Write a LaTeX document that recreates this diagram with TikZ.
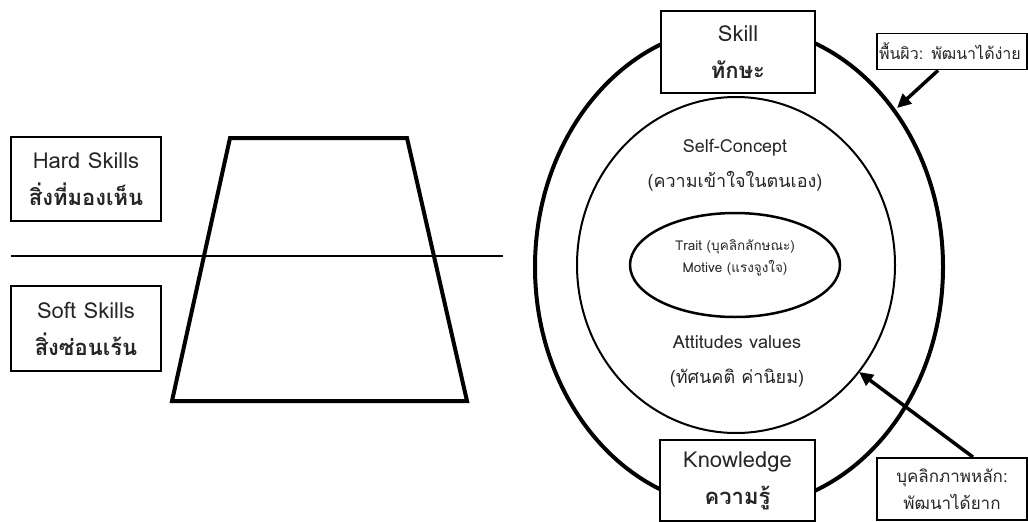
\documentclass[tikz,border=0pt]{standalone}
\usepackage{fontspec}
\setmainfont[Script=Thai]{Loma}
\usetikzlibrary{arrows.meta,calc}
\newcommand{\thline}[1]{{\fontsize{22}{37}\selectfont\bfseries #1}}
\tikzset{
  box/.style={draw=black,line width=1.8pt,fill=white,inner sep=0pt,align=center,text=black!85},
  bigtxt/.style={font=\fontsize{22}{37}\selectfont},
  midtxt/.style={font=\fontsize{18}{35}\selectfont},
  smalltxt/.style={font=\fontsize{13.5}{22}\selectfont},
  anntxt/.style={font=\fontsize{16}{27}\selectfont},
  ann2txt/.style={font=\fontsize{17}{27}\selectfont},
  arr/.style={line width=3.5pt,-{Triangle[length=14pt,width=13pt]}},
}
\begin{document}
\begin{tikzpicture}[x=1pt,y=-1pt]
\useasboundingbox (0,0) rectangle (1028,522);
% left part
\draw[line width=2.5pt] (11,256) -- (503,256);
\draw[line width=4pt,line join=miter] (230,138) -- (407,138) -- (467,401) -- (172,401) -- cycle;
\node[box,bigtxt,minimum width=150pt,minimum height=84pt] (hard) at (86,179) {Hard Skills\\ \thline{สิ่งที่มองเห็น}};
\node[box,bigtxt,minimum width=150pt,minimum height=85pt] (soft) at (86,328.5) {Soft Skills\\ \thline{สิ่งซ่อนเร้น}};
% right part
\draw[line width=4pt] (739,267) ellipse [x radius=204, y radius=241];
\draw[line width=2pt] (736,265) ellipse [x radius=159, y radius=168];
\draw[line width=2.5pt] (735,265) ellipse [x radius=105, y radius=52];
\node[smalltxt,align=center,text=black!85] (core) at (735,258) {Trait (บุคลิกลักษณะ)\\ Motive (แรงจูงใจ)};
\node[midtxt,align=center,text=black!85] (self) at (735,165) {Self-Concept\\ (ความเข้าใจในตนเอง)};
\node[midtxt,align=center,text=black!85] (att) at (737,361) {Attitudes values\\ (ทัศนคติ ค่านิยม)};
\node[box,bigtxt,minimum width=154pt,minimum height=82pt] (skill) at (738,52) {Skill\\ \thline{ทักษะ}};
\node[box,bigtxt,minimum width=155pt,minimum height=81pt] (know) at (737.5,480.5) {Knowledge\\ \thline{ความรู้}};
\node[box,anntxt,minimum width=150pt,minimum height=36pt,text width=146pt,align=left] (ann1) at (952,51.5) {พื้นผิว: พัฒนาได้ง่าย};
\node[box,ann2txt,minimum width=150pt,minimum height=62pt] (ann2) at (952,489) {บุคลิกภาพหลัก:\\ พัฒนาได้ยาก};
\coordinate (t1) at (897,108);
\coordinate (t2) at (859,372);
\draw[arr] ($(ann1.south)+(-14,0)$) -- (t1);
\draw[arr] ($(ann2.north)+(21,0)$) -- (t2);
\end{tikzpicture}
\end{document}
